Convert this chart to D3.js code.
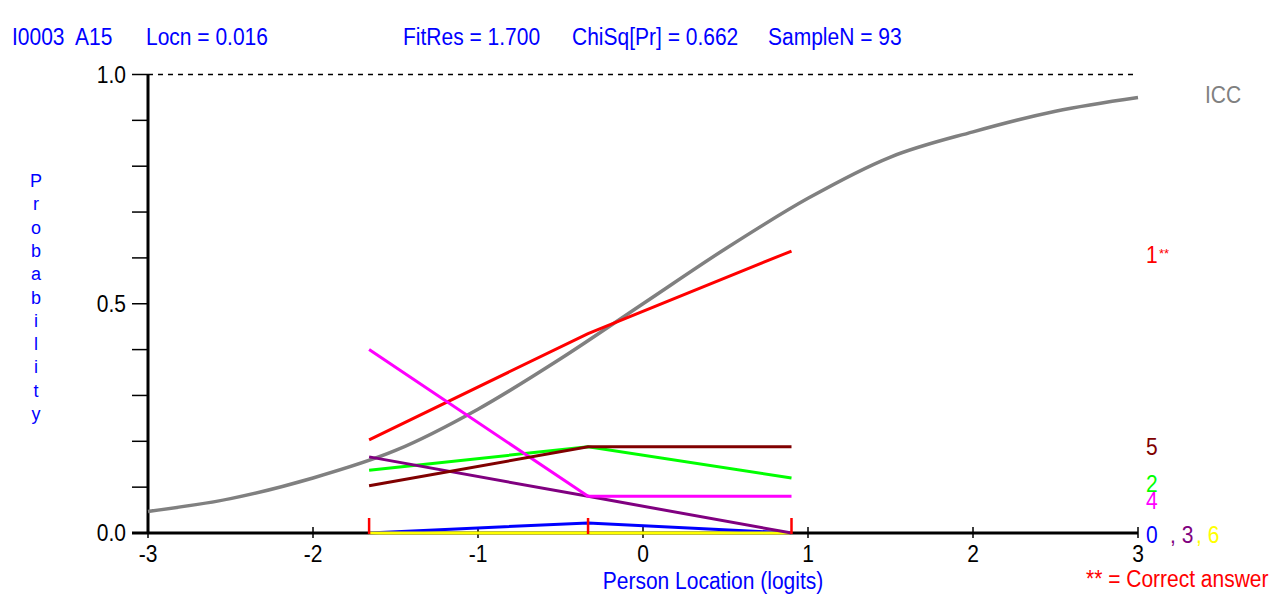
<!DOCTYPE html>
<html>
<head>
<meta charset="utf-8">
<script src="https://cdn.jsdelivr.net/npm/d3@7"></script>
<style>
  body { margin: 0; background: #fff; }
  text { font-family: "Liberation Sans", Arial, sans-serif; white-space: pre; }
</style>
</head>
<body>
<svg id="chart" width="1281" height="598"></svg>
<script>
// Header stats
const headerItems = [
  {text: "I0003  A15", x: 12},
  {text: "Locn = 0.016", x: 146},
  {text: "FitRes = 1.700", x: 403},
  {text: "ChiSq[Pr] = 0.662", x: 572},
  {text: "SampleN = 93", x: 768}
];

// ICC
const iccX = [-3, -2.5, -2, -1.5, -1, -0.5, 0, 0.5, 1, 1.5, 2, 2.5, 3];
const iccP = [0.047, 0.075, 0.12, 0.18, 0.27, 0.38, 0.50, 0.62, 0.73, 0.82, 0.875, 0.92, 0.95];

// Class interval means (logits)
const classX = [-1.66, -0.333, 0.90];

// Distractor proportions per class interval
const distractors = [
  {name: "0", color: "#0000ff", values: [0.0, 0.022, 0.0]},
  {name: "6", color: "#ffff00", values: [0.0, 0.0, 0.0]},
  {name: "1", color: "#ff0000", values: [0.203, 0.435, 0.615]},
  {name: "2", color: "#00ff00", values: [0.137, 0.188, 0.12]},
  {name: "3", color: "#800080", values: [0.166, 0.08, 0.0]},
  {name: "4", color: "#ff00ff", values: [0.40, 0.08, 0.08]},
  {name: "5", color: "#800000", values: [0.103, 0.188, 0.188]}
];

const xTicks = [-3, -2, -1, 0, 1, 2, 3];
const yLabels = [0, 0.5, 1];

const svg = d3.select("#chart");
const fontSize = 21;
const stretch = 1.13;

let x = d3.scaleLinear().domain([-3, 3]).range([148, 1138]);
let y = d3.scaleLinear().domain([0, 1]).range([533, 74.5]);

// Text is a bit taller than it is wide in the original
function place(sel, fx, fy) {
  return sel.attr("transform", (d, i) => `translate(${fx(d, i)},${fy(d, i)}) scale(1,${stretch})`)
            .style("font-size", fontSize + "px");
}

// Header
place(svg.selectAll(".hdr")
   .data(headerItems)
   .enter().append("text"), d => d.x, () => 45)
   .style("fill", "#0000ff")
   .text(d => d.text);

// Dashed line at 1.0
svg.append("line")
   .attr("x1", x(-3)).attr("x2", x(3))
   .attr("y1", y(1)).attr("y2", y(1))
   .style("stroke", "#000")
   .style("stroke-width", 1.5)
   .style("stroke-dasharray", "5 5");

// Y axis minor ticks
svg.selectAll(".ytick")
   .data(d3.range(0, 11).map(i => i / 10))
   .enter().append("line")
   .attr("x1", 132).attr("x2", x(-3))
   .attr("y1", d => y(d)).attr("y2", d => y(d))
   .style("stroke", "#000")
   .style("stroke-width", 1.5);

place(svg.selectAll(".ylab")
   .data(yLabels)
   .enter().append("text"), () => 126, d => y(d) + 8)
   .attr("text-anchor", "end")
   .style("fill", "#000")
   .text(d => d3.format(".1f")(d));

// Y axis line
svg.append("line")
   .attr("x1", x(-3)).attr("x2", x(-3))
   .attr("y1", y(1)).attr("y2", y(0))
   .style("stroke", "#000")
   .style("stroke-width", 3);

// Y axis title, stacked letters
svg.selectAll(".ytitle")
   .data("Probability".split(""))
   .enter().append("text")
   .attr("x", 36)
   .attr("y", (d, i) => 187 + i * 23.3)
   .attr("text-anchor", "middle")
   .style("font-size", "18px")
   .style("fill", "#0000ff")
   .text(d => d);

// ICC
let icc = d3.line()
            .x(d => x(d[0]))
            .y(d => y(d[1]))
            .curve(d3.curveMonotoneX);

svg.append("path")
   .datum(iccX.map((v, i) => [v, iccP[i]]))
   .attr("d", icc)
   .style("fill", "none")
   .style("stroke", "#808080")
   .style("stroke-width", 3.5);

// X axis line
svg.append("line")
   .attr("x1", 132).attr("x2", x(3))
   .attr("y1", y(0)).attr("y2", y(0))
   .style("stroke", "#000")
   .style("stroke-width", 3);

svg.selectAll(".xtick")
   .data(xTicks)
   .enter().append("line")
   .attr("x1", d => x(d)).attr("x2", d => x(d))
   .attr("y1", y(0) - 6).attr("y2", y(0) + 5)
   .style("stroke", "#000")
   .style("stroke-width", 1.5);

place(svg.selectAll(".xlab")
   .data(xTicks)
   .enter().append("text"), d => x(d), () => 562)
   .attr("text-anchor", "middle")
   .style("fill", "#000")
   .text(d => d < 0 ? "-" + Math.abs(d) : d);

// Distractor lines
let distLine = d3.line()
                 .x((d, i) => x(classX[i]))
                 .y(d => y(d));

svg.selectAll(".dist")
   .data(distractors)
   .enter().append("path")
   .attr("d", d => distLine(d.values))
   .style("fill", "none")
   .style("stroke", d => d.color)
   .style("stroke-width", 3);

// Class interval markers
svg.selectAll(".cls")
   .data(classX)
   .enter().append("line")
   .attr("x1", d => x(d)).attr("x2", d => x(d))
   .attr("y1", y(0) - 15).attr("y2", y(0) + 1)
   .style("stroke", "#ff0000")
   .style("stroke-width", 2.5);

// Right-hand labels
const rightLabels = [
  {text: "ICC", x: 1205, y: 103, color: "#808080"},
  {text: "1", x: 1146, y: 263, color: "#ff0000"},
  {text: "5", x: 1146, y: 455, color: "#800000"},
  {text: "2", x: 1146, y: 492, color: "#00ff00"},
  {text: "4", x: 1146, y: 509, color: "#ff00ff"},
  {text: "0", x: 1146, y: 543, color: "#0000ff"},
  {text: ", 3", x: 1170, y: 543, color: "#800080"},
  {text: ", 6", x: 1196, y: 543, color: "#ffff00"}
];

place(svg.selectAll(".rlab")
   .data(rightLabels)
   .enter().append("text"), d => d.x, d => d.y)
   .style("fill", d => d.color)
   .text(d => d.text);

svg.append("text")
   .attr("x", 1159).attr("y", 258)
   .style("font-size", "13px")
   .style("fill", "#ff0000")
   .text("**");

place(svg.append("text"), () => 1086, () => 587)
   .style("fill", "#ff0000")
   .text("** = Correct answer");

// X axis title
place(svg.append("text"), () => 713, () => 589)
   .attr("text-anchor", "middle")
   .style("fill", "#0000ff")
   .text("Person Location (logits)");
</script>
</body>
</html>
